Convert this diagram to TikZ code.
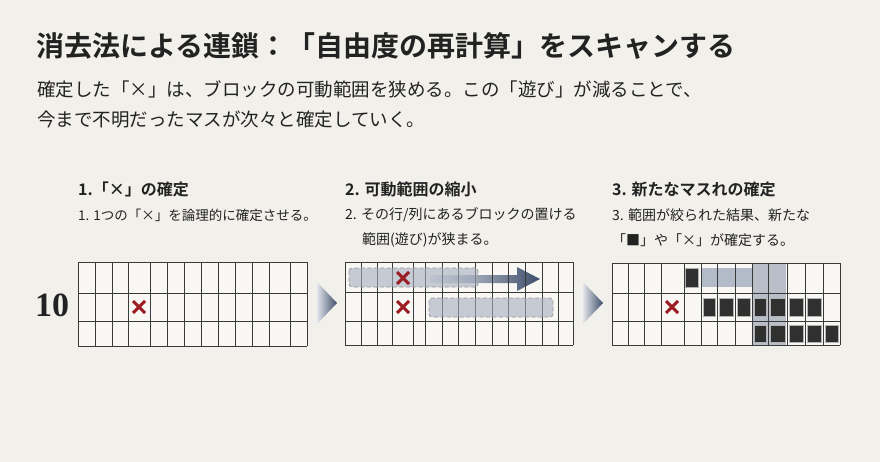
\documentclass[tikz,border=0pt]{standalone}
\usepackage{fontspec}
\usepackage{tikz}

\newfontfamily\jp{Noto Sans CJK JP}[BoldFont={Noto Sans CJK JP Bold}]
\newfontfamily\numfont{Liberation Serif}

\definecolor{paper}{HTML}{F2F0EB}
\definecolor{ink}{HTML}{222222}
\definecolor{gridcol}{HTML}{3A3A3A}
\definecolor{cellfill}{HTML}{F8F7F4}
\definecolor{crossred}{HTML}{9C1C24}
\definecolor{slate}{HTML}{3D4D6B}
\definecolor{haze}{HTML}{A4ADBE}
\definecolor{blockcol}{HTML}{303030}

\tikzset{
	txt/.style = {inner sep = 0pt, anchor = west, text = ink},
	gridbox/.style = {draw = gridcol, line width = 0.9pt},
	cross/.style = {crossred, line width = 2.9pt},
	rangebox/.style = {fill = haze, fill opacity = 0.6, draw = gray!80, dash pattern = on 4pt off 2.5pt, rounded corners = 3pt, line width = 0.8pt},
	blockcell/.style = {fill = blockcol, draw = gray!60, line width = 0.7pt},
}

\newcommand{\crossat}[2]{
	\draw [cross] (#1-6, #2-6) -- (#1+6, #2+6);
	\draw [cross] (#1-6, #2+6) -- (#1+6, #2-6);
}

\begin{document}
\begin{tikzpicture}[x = 1pt, y = -1pt]
		\fill [paper] (0, 0) rectangle (880, 462);
		\useasboundingbox (0, 0) rectangle (880, 462);
		
		% heading and lead text
		\node [txt, font = \jp\bfseries\fontsize{28}{28}\selectfont] (title) at (36, 46) {消去法による連鎖：「自由度の再計算」をスキャンする};
		\node [txt, font = \jp\fontsize{18.5}{18.5}\selectfont] (lead one) at (37, 89) {確定した「×」は、ブロックの可動範囲を狭める。この「遊び」が減ることで、};
		\node [txt, font = \jp\fontsize{18.5}{18.5}\selectfont] (lead two) at (37, 119) {今まで不明だったマスが次々と確定していく。};
		
		% step captions
		\node [txt, font = \jp\bfseries\fontsize{16}{16}\selectfont] (head one) at (78, 189) {1.「×」の確定};
		\node [txt, font = \jp\fontsize{13.5}{13.5}\selectfont] (desc one) at (78, 215) {1. 1つの「×」を論理的に確定させる。};
		
		\node [txt, font = \jp\bfseries\fontsize{16}{16}\selectfont] (head two) at (345, 189) {2. 可動範囲の縮小};
		\node [txt, font = \jp\fontsize{14}{14}\selectfont] (desc two) at (345, 215) {2. その行/列にあるブロックの置ける};
		\node [txt, font = \jp\fontsize{14}{14}\selectfont] (desc two b) at (362, 240) {範囲(遊び)が狭まる。};
		
		\node [txt, font = \jp\bfseries\fontsize{16}{16}\selectfont] (head three) at (612, 189) {3. 新たなマスれの確定};
		\node [txt, font = \jp\fontsize{14}{14}\selectfont] (desc three) at (612, 215) {3. 範囲が絞られた結果、新たな};
		\node [txt, font = \jp\fontsize{14}{14}\selectfont] (desc three b) at (612, 240) {「■」や「×」が確定する。};
		
		\node [txt, font = \numfont\bfseries\fontsize{34}{34}\selectfont] (clue) at (35, 305) {10};
		
		% grid 1
		\fill [cellfill] (78, 262) rectangle (307, 346);
		\foreach \x in {78, 95, 112, 128, 150, 167, 184, 201, 218, 235, 252, 269, 290, 307}
			\draw [gridbox] (\x, 262) -- (\x, 346);
		\foreach \y in {262, 293, 321, 346}
			\draw [gridbox] (78, \y) -- (307, \y);
		\crossat{139}{307}
		
		\shade [left color = slate!15, right color = slate] (317, 282) -- (337, 303) -- (317, 324) -- cycle;
		
		% grid 2
		\fill [cellfill] (345, 262) rectangle (573, 345);
		\shade [left color = haze!30, right color = slate] (430, 275) -- (517, 275) -- (517, 267) -- (540, 279) -- (517, 291) -- (517, 283) -- (430, 283) -- cycle;
		\foreach \x in {345, 361, 377, 392, 413, 425, 442, 458, 475, 492, 508, 525, 542, 558, 573}
			\draw [gridbox] (\x, 262) -- (\x, 345);
		\foreach \y in {262, 292, 321, 345}
			\draw [gridbox] (345, \y) -- (573, \y);
		\draw [rangebox] (349, 268) rectangle (478, 287);
		\draw [rangebox] (429, 298) rectangle (553, 317);
		\crossat{403}{278}
		\crossat{403}{307}
		
		\shade [left color = slate!15, right color = slate] (583, 282) -- (603, 303) -- (583, 324) -- cycle;
		
		% grid 3
		\fill [cellfill] (612, 263) rectangle (840, 345);
		\fill [haze, opacity = 0.8] (701, 268) rectangle (752, 287);
		\fill [haze!80!slate, opacity = 0.6] (752, 263) rectangle (786, 345);
		\foreach \x in {612, 628, 644, 661, 684, 701, 717, 735, 752, 768, 787, 805, 823, 840}
			\draw [gridbox] (\x, 263) -- (\x, 345);
		\foreach \y in {263, 293, 321, 345}
			\draw [gridbox] (612, \y) -- (840, \y);
		\crossat{672}{307}
		\draw [blockcell] (685, 268) rectangle (698, 287);
		\foreach \a/\b in {701/717, 717/735, 735/752, 752/768, 768/787, 787/805, 805/823}
			\draw [blockcell] (\a+2, 298) rectangle (\b-2, 316);
		\foreach \a/\b in {752/768, 768/787, 787/805, 805/823, 823/840}
			\draw [blockcell] (\a+2, 325) rectangle (\b-2, 342);
	\end{tikzpicture}
\end{document}
